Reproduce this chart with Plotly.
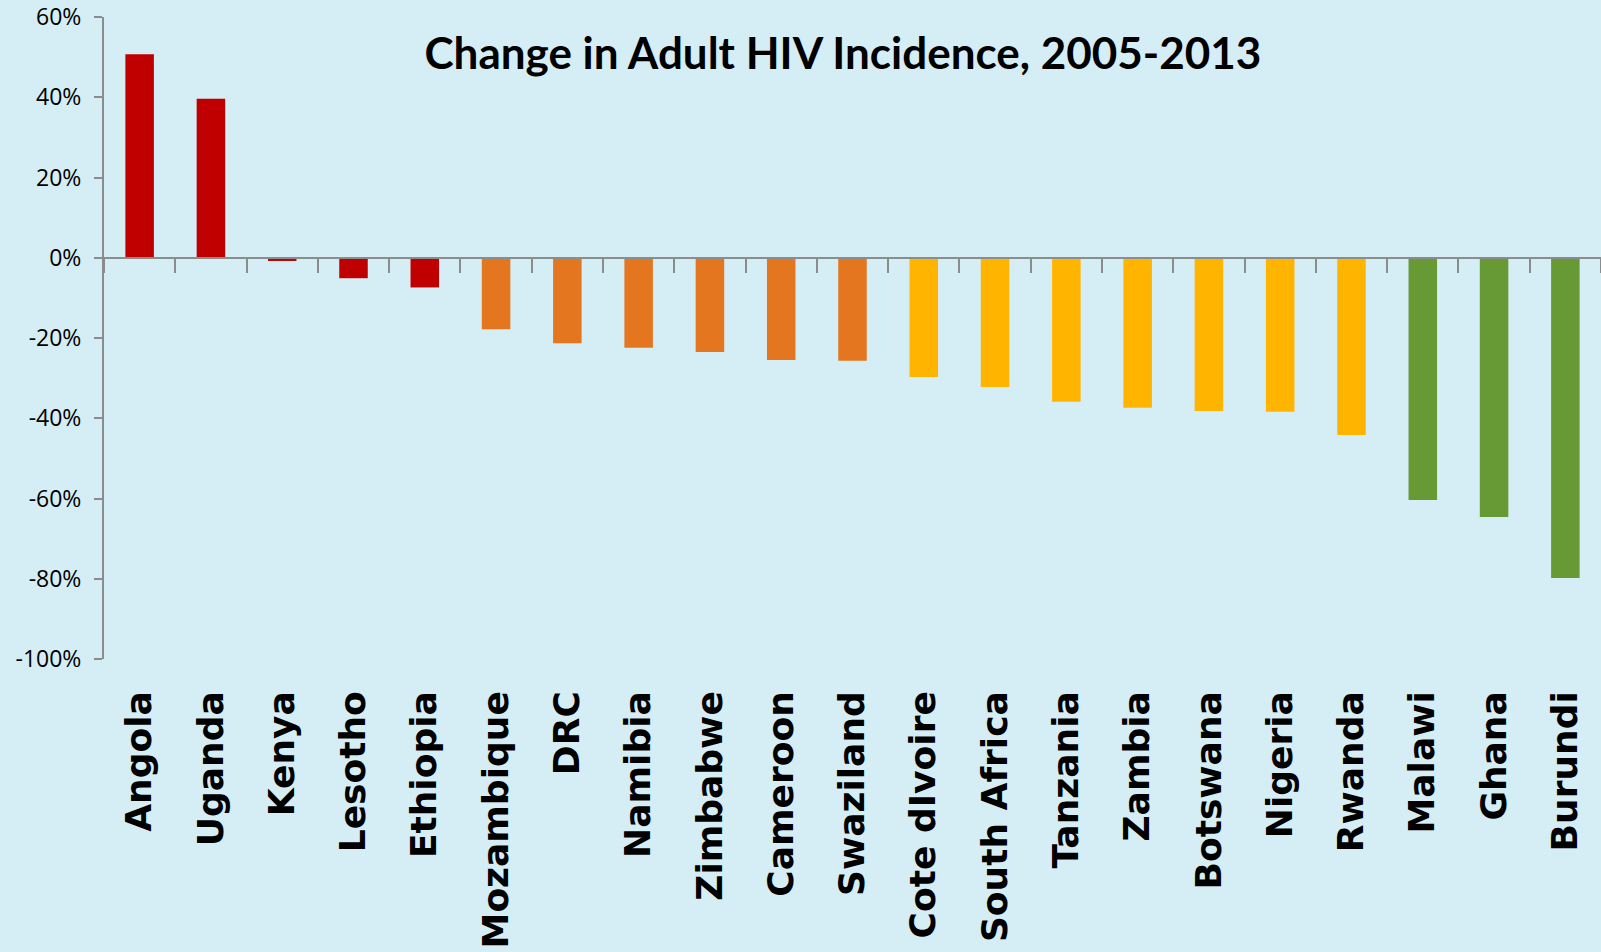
import plotly.graph_objects as go

countries = ["Angola", "Uganda", "Kenya", "Lesotho", "Ethiopia", "Mozambique", "DRC",
             "Namibia", "Zimbabwe", "Cameroon", "Swaziland", "Cote dIvoire", "South Africa",
             "Tanzania", "Zambia", "Botswana", "Nigeria", "Rwanda", "Malawi", "Ghana", "Burundi"]
change = [0.507, 0.396, -0.008, -0.051, -0.074, -0.178, -0.213, -0.224, -0.235, -0.255,
          -0.257, -0.297, -0.322, -0.359, -0.374, -0.382, -0.384, -0.442, -0.604, -0.646, -0.798]
group = ["red"] * 5 + ["orange"] * 6 + ["yellow"] * 7 + ["green"] * 3
palette = {"red": "#C00000", "orange": "#E3761F", "yellow": "#FFB400", "green": "#679935"}
yticks = [0.6, 0.4, 0.2, 0.0, -0.2, -0.4, -0.6, -0.8, -1.0]
ytick_text = ["60%", "40%", "20%", "0%", "-20%", "-40%", "-60%", "-80%", "-100%"]

bg = "#D5EDF5"
axis_grey = "#8C8C8C"

fig = go.Figure()
fig.add_trace(go.Bar(
    x=countries, y=change,
    marker=dict(color=[palette[g] for g in group], line=dict(width=0)),
    width=0.4, showlegend=False, hoverinfo="x+y",
))
# invisible trace to carry the zero-line category axis
fig.add_trace(go.Scatter(x=countries, y=[0] * len(countries), xaxis="x2", mode="markers",
                         marker=dict(opacity=0), showlegend=False, hoverinfo="skip"))

fig.update_layout(
    width=1601, height=952,
    paper_bgcolor=bg, plot_bgcolor=bg,
    margin=dict(l=104, r=0, t=17, b=293),
    title=dict(text="<b>Change in Adult HIV Incidence, 2005-2013</b>",
               font=dict(family="Lato", size=44, color="#000000"),
               x=0.5265, xanchor="center", y=1 - 54 / 952, yanchor="middle"),
    xaxis=dict(
        showline=False, ticks="", showgrid=False, zeroline=False,
        tickangle=-90, ticklabelstandoff=24,
        tickfont=dict(family="DejaVu Sans", size=36, color="#000000", weight="bold"),
        range=[-0.5, len(countries) - 0.5],
    ),
    xaxis2=dict(
        overlaying="x", anchor="free", position=0.625, matches="x",
        showline=True, linecolor=axis_grey, linewidth=2,
        ticks="outside", tickson="boundaries", ticklen=14, tickwidth=2, tickcolor=axis_grey,
        showticklabels=False, showgrid=False, zeroline=False,
    ),
    yaxis=dict(
        range=[-1.0, 0.6], tickvals=yticks, ticktext=ytick_text,
        showline=True, linecolor=axis_grey, linewidth=2,
        ticks="outside", ticklen=8, tickwidth=2, tickcolor=axis_grey,
        showgrid=False, zeroline=False, ticklabelstandoff=8,
        tickfont=dict(family="Open Sans", size=23, color="#000000"),
    ),
    bargap=0.6,
)

fig.write_html("out.html", config={"displayModeBar": False},
               post_script="document.body.style.margin='0';document.body.style.background='%s';" % bg)
